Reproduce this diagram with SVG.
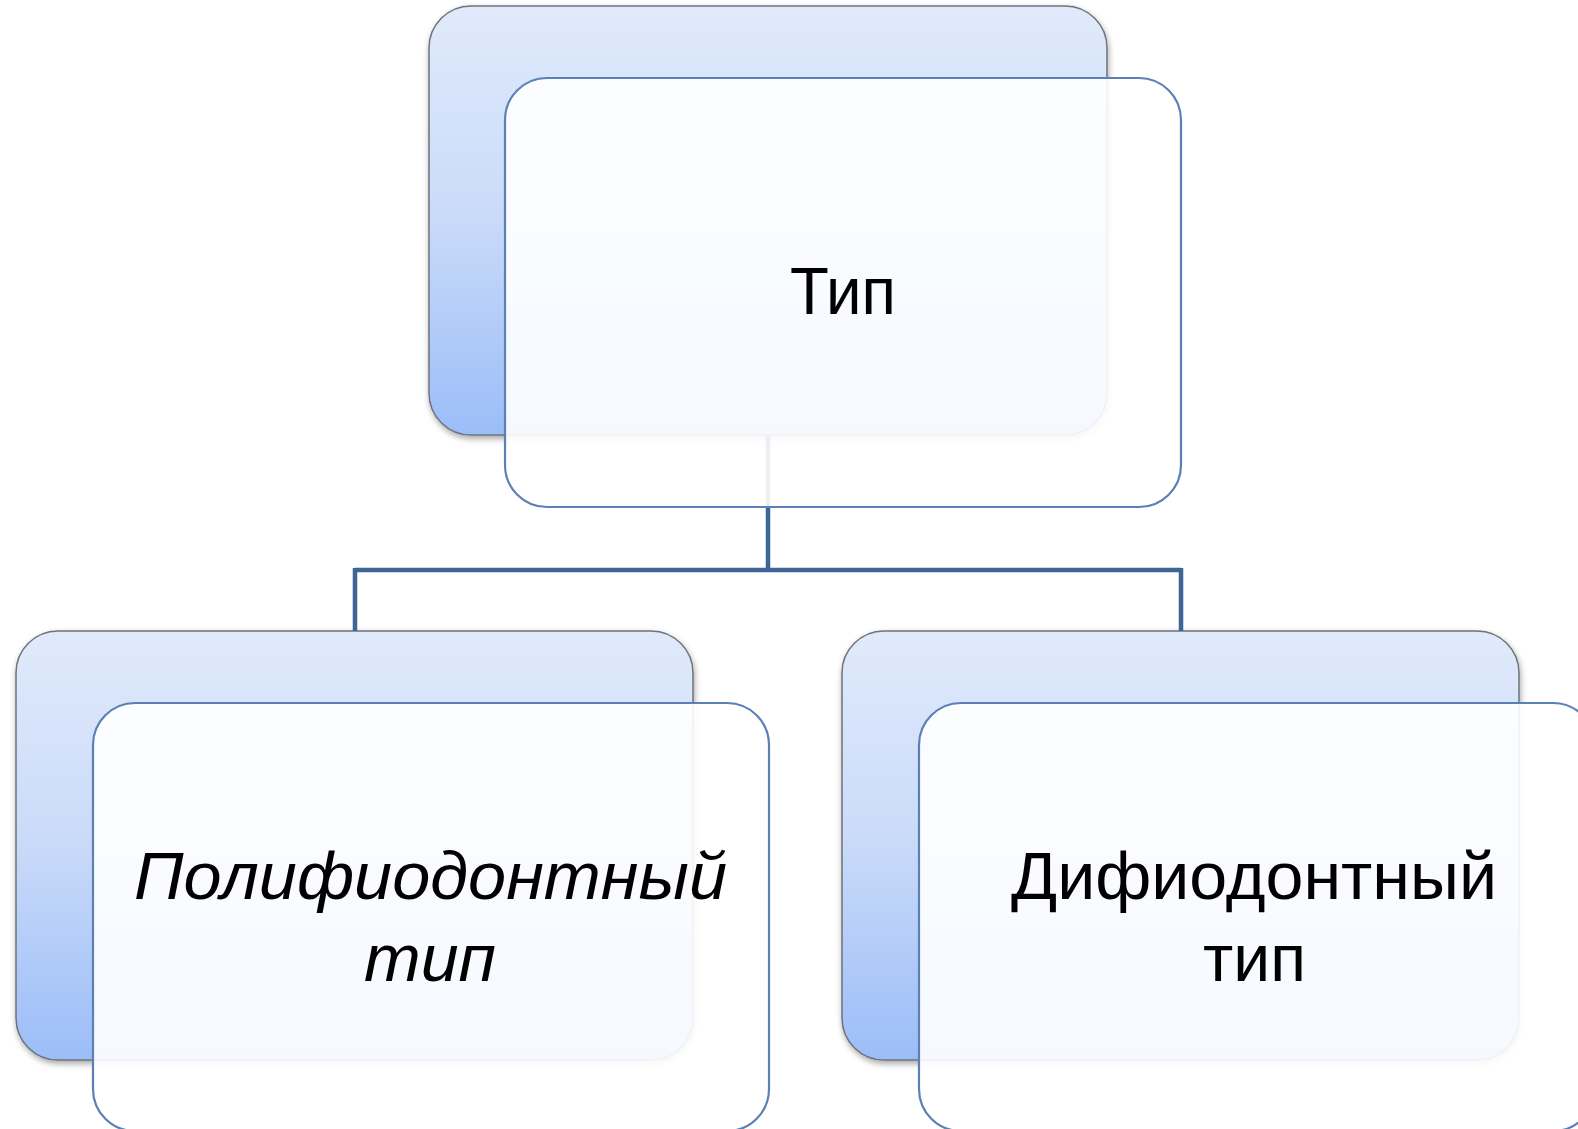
<svg xmlns="http://www.w3.org/2000/svg" width="1578" height="1129" viewBox="0 0 1578 1129">
<defs>
<linearGradient id="bg" x1="0" y1="0" x2="0" y2="1">
<stop offset="0" stop-color="#e0eafb"/>
<stop offset="0.5" stop-color="#c9daf9"/>
<stop offset="1" stop-color="#9bbdf8"/>
</linearGradient>
<filter id="sh" x="-5%" y="-5%" width="112%" height="115%">
<feGaussianBlur in="SourceAlpha" stdDeviation="3"/>
<feOffset dx="1" dy="3" result="b"/>
<feComponentTransfer><feFuncA type="linear" slope="0.35"/></feComponentTransfer>
<feMerge><feMergeNode/><feMergeNode in="SourceGraphic"/></feMerge>
</filter>
</defs>
<style>
.back{fill:url(#bg);stroke:#6f7378;stroke-width:1.5}
.front{fill:#ffffff;fill-opacity:0.9;stroke:#5b80b6;stroke-width:2.2}
.conn{fill:none;stroke:#3f6597;stroke-width:4.5}
.t{font-family:"Liberation Sans","Open Sans",sans-serif;font-size:67px;fill:#000;text-anchor:middle}
.i{font-style:italic}
</style>
<g id="node-top-back"><rect class="back" filter="url(#sh)" x="429" y="6" width="678" height="429" rx="42"/></g>
<g id="node-left-back"><rect class="back" filter="url(#sh)" x="16" y="631" width="677" height="429" rx="42"/></g>
<g id="node-right-back"><rect class="back" filter="url(#sh)" x="842" y="631" width="677" height="429" rx="42"/></g>
<g id="connectors">
<path class="conn" d="M768 435 V570 M355 570 H1181 M355 568 V631 M1181 568 V631"/>
</g>
<g id="node-top">
<rect class="front" x="505" y="78" width="676" height="429" rx="42"/>
<text class="t" x="843" y="314" textLength="106" lengthAdjust="spacingAndGlyphs">Тип</text>
</g>
<g id="node-left">
<rect class="front" x="93" y="703" width="676" height="428" rx="42"/>
<text class="t i" x="430.5" y="899" textLength="593" lengthAdjust="spacingAndGlyphs">Полифиодонтный</text>
<text class="t i" x="430" y="981" textLength="132" lengthAdjust="spacingAndGlyphs">тип</text>
</g>
<g id="node-right">
<rect class="front" x="919" y="703" width="676" height="428" rx="42"/>
<text class="t" x="1254" y="899" textLength="486" lengthAdjust="spacingAndGlyphs">Дифиодонтный</text>
<text class="t" x="1254.5" y="981" textLength="103" lengthAdjust="spacingAndGlyphs">тип</text>
</g>
</svg>
